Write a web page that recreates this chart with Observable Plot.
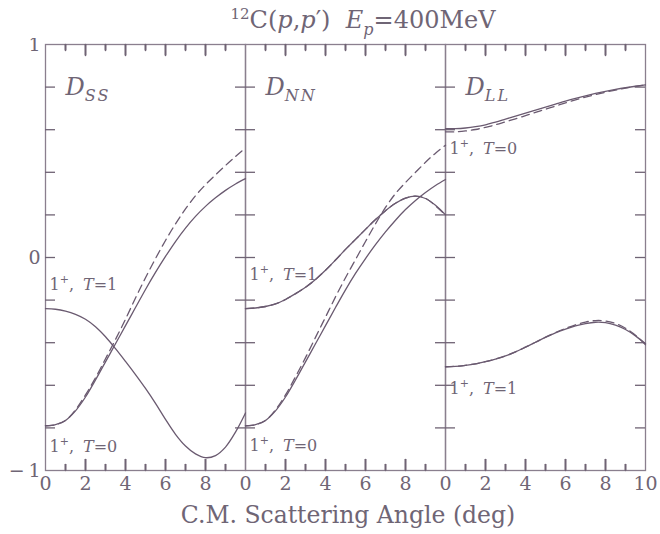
<!DOCTYPE html>
<html>
<head>
<meta charset="utf-8">
<script src="https://cdn.jsdelivr.net/npm/d3@7"></script>
<script src="https://cdn.jsdelivr.net/npm/@observablehq/plot@0.6"></script>
<style>
  body { margin: 0; background: #fff; font-family: "DejaVu Serif", serif; color: #6f6575; }
  #title { height: 38px; line-height: 40px; text-align: center; font-size: 24px; padding-left: 66px; white-space: nowrap; }
  #title sup { font-size: 15px; vertical-align: 9px; line-height: 0; }
  #title sub { font-size: 16px; vertical-align: -7px; line-height: 0; }
  #xlabel { height: 34px; line-height: 30px; text-align: center; font-size: 23.5px; padding-left: 36px; white-space: nowrap; }
  #chart svg { display: block; }
</style>
</head>
<body>
<div id="title"><sup>12</sup>C(<i>p</i>,<i>p</i>′)&nbsp;&nbsp;<i>E<sub>p</sub></i>=400MeV</div>
<div id="chart"></div>
<div id="xlabel">C.M. Scattering Angle (deg)</div>
<script>
// ---------- data ----------
const panels = ["SS", "NN", "LL"];
const angles = [0, 0.5, 1, 1.5, 2, 2.5, 3, 3.5, 4, 4.5, 5, 5.5, 6, 6.5, 7, 7.5, 8, 8.5, 9, 9.5, 10];

// D_SS
const ssT0Solid = [-0.79,-0.785,-0.765,-0.72,-0.655,-0.575,-0.49,-0.405,-0.32,-0.235,-0.15,-0.07,0.005,0.075,0.138,0.193,0.24,0.28,0.315,0.345,0.37];
const ssT0Dashed = [-0.79,-0.785,-0.765,-0.715,-0.645,-0.565,-0.475,-0.385,-0.29,-0.19,-0.095,-0.005,0.08,0.158,0.228,0.29,0.342,0.388,0.432,0.474,0.515];
const ssT1Solid = [-0.24,-0.243,-0.252,-0.267,-0.29,-0.325,-0.372,-0.428,-0.488,-0.55,-0.615,-0.685,-0.76,-0.83,-0.885,-0.922,-0.94,-0.93,-0.89,-0.82,-0.73];

// D_NN
const nnT0Solid = [-0.79,-0.785,-0.765,-0.72,-0.655,-0.575,-0.49,-0.405,-0.32,-0.235,-0.152,-0.075,-0.005,0.06,0.12,0.175,0.225,0.268,0.305,0.338,0.366];
const nnT0Dashed = [-0.79,-0.785,-0.765,-0.715,-0.645,-0.56,-0.47,-0.375,-0.28,-0.185,-0.095,-0.01,0.075,0.158,0.235,0.30,0.352,0.40,0.447,0.49,0.527];
const nnT1Solid = [-0.24,-0.237,-0.23,-0.218,-0.197,-0.17,-0.14,-0.103,-0.06,-0.012,0.038,0.085,0.132,0.178,0.22,0.255,0.279,0.288,0.277,0.245,0.2];
const nnT1Dashed = [-0.24,-0.237,-0.23,-0.218,-0.197,-0.17,-0.14,-0.103,-0.06,-0.012,0.038,0.085,0.132,0.178,0.22,0.255,0.279,0.288,0.278,0.243,0.198];

// D_LL
const llT0Solid = [0.605,0.605,0.608,0.614,0.623,0.636,0.65,0.664,0.678,0.692,0.706,0.72,0.734,0.747,0.759,0.77,0.78,0.789,0.797,0.804,0.81];
const llT0Dashed = [0.59,0.59,0.594,0.601,0.611,0.623,0.637,0.651,0.666,0.681,0.696,0.711,0.726,0.74,0.753,0.765,0.776,0.786,0.795,0.803,0.81];
const llT1Solid = [-0.513,-0.511,-0.506,-0.499,-0.489,-0.477,-0.462,-0.443,-0.421,-0.398,-0.375,-0.354,-0.336,-0.321,-0.31,-0.304,-0.306,-0.318,-0.338,-0.368,-0.405];
const llT1Dashed = [-0.513,-0.511,-0.506,-0.499,-0.489,-0.477,-0.462,-0.443,-0.421,-0.398,-0.374,-0.352,-0.333,-0.316,-0.303,-0.296,-0.298,-0.31,-0.332,-0.365,-0.41];

// ticks and labels
const xDomain = [0, 10];
const yDomain = [-1, 1];
const xTickLabels = [0, 2, 4, 6, 8];
const xLastLabel = 10;
const xMajorTicks = [2, 4, 6, 8];
const xMinorTicks = [1, 3, 5, 7, 9];
const yTicks = [-0.8, -0.6, -0.4, -0.2, 0, 0.2, 0.4, 0.6, 0.8];
const yTickLabels = [-1, 0, 1];
const panelNames = ["D_SS", "D_NN", "D_LL"];
const curveLabels = [
  {panel: "SS", y: -0.13, label: "1+ T=1"},
  {panel: "SS", y: -0.887, label: "1+ T=0"},
  {panel: "NN", y: -0.08, label: "1+ T=1"},
  {panel: "NN", y: -0.883, label: "1+ T=0"},
  {panel: "LL", y: 0.512, label: "1+ T=0"},
  {panel: "LL", y: -0.615, label: "1+ T=1"}
];

// ---------- layout ----------
const W = 660, H = 462, mT = 6, mB = 30, mL = 45, mR = 15;
const innerH = H - mT - mB;
const facetW = (W - mL - mR) / panels.length;
const majorLen = 11, minorLen = 6, yTickLen = 10;
const unitsPerPx = (yDomain[1] - yDomain[0]) / innerH;

// ---------- build tables ----------
function rows(panel, series, values) {
  return angles.map((a, i) => ({panel, series, angle: a, value: values[i]}));
}
const solidRows = [
  ...rows("SS", "T0", ssT0Solid), ...rows("SS", "T1", ssT1Solid),
  ...rows("NN", "T0", nnT0Solid), ...rows("NN", "T1", nnT1Solid),
  ...rows("LL", "T0", llT0Solid), ...rows("LL", "T1", llT1Solid)
];
const dashedRows = [
  ...rows("SS", "T0", ssT0Dashed),
  ...rows("NN", "T0", nnT0Dashed), ...rows("NN", "T1", nnT1Dashed),
  ...rows("LL", "T0", llT0Dashed), ...rows("LL", "T1", llT1Dashed)
];
const xLabelRows = [];
panels.forEach((p, k) => {
  xTickLabels.forEach(v => xLabelRows.push({panel: p, v}));
  if (k === panels.length - 1) xLabelRows.push({panel: p, v: xLastLabel});
});
const yLabelRows = yTickLabels.map(v => ({panel: panels[0], v, label: v < 0 ? "\u2212\u2009" + Math.abs(v) : String(v)}));
const panelNameRows = panels.map((p, i) => ({panel: p, name: panelNames[i]}));
// inward x ticks as short two-point segments from the bottom and top edges of each facet
const xTickSegs = [];
panels.forEach(p => {
  [[xMajorTicks, majorLen], [xMinorTicks, minorLen]].forEach(([ticks, len]) => {
    ticks.forEach(v => {
      const d = len * unitsPerPx;
      xTickSegs.push({panel: p, id: p + "b" + v, v, y: yDomain[0]}, {panel: p, id: p + "b" + v, v, y: yDomain[0] + d});
      xTickSegs.push({panel: p, id: p + "t" + v, v, y: yDomain[1]}, {panel: p, id: p + "t" + v, v, y: yDomain[1] - d});
    });
  });
});
// edge rows (repeated in every facet) for the rule version of the same ticks
const edgeRows = (ticks, edge) => ticks.map(v => ({v, edge}));

// ---------- styling ----------
const lineColor = "#6a5a70";
const frameColor = "#8a7f8e";
const tickColor = "#6f6374";
const textColor = "#6f6575";

const chart = Plot.plot({
  width: W, height: H,
  marginTop: mT, marginBottom: mB, marginLeft: mL, marginRight: mR,
  fx: {domain: panels, padding: 0, axis: null, round: false},
  x: {domain: xDomain, axis: null},
  y: {domain: yDomain, axis: null},
  marks: [
    Plot.frame({stroke: frameColor, strokeWidth: 1.3}),
    // inward x ticks (drawn as rules anchored on the frame edges, and as short segments)
    Plot.ruleX(edgeRows(xMajorTicks, yDomain[0]), {x: "v", y1: "edge", y2: "edge", insetBottom: majorLen, stroke: tickColor, strokeWidth: 1.6}),
    Plot.ruleX(edgeRows(xMinorTicks, yDomain[0]), {x: "v", y1: "edge", y2: "edge", insetBottom: minorLen, stroke: tickColor, strokeWidth: 1.6}),
    Plot.ruleX(edgeRows(xMajorTicks, yDomain[1]), {x: "v", y1: "edge", y2: "edge", insetTop: majorLen, stroke: tickColor, strokeWidth: 1.6}),
    Plot.ruleX(edgeRows(xMinorTicks, yDomain[1]), {x: "v", y1: "edge", y2: "edge", insetTop: minorLen, stroke: tickColor, strokeWidth: 1.6}),
    Plot.line(xTickSegs, {x: "v", y: "y", z: "id", fx: "panel", stroke: tickColor, strokeWidth: 1.6}),
    // inward y ticks (left & right)
    Plot.tickY(yTicks, {y: d => d, insetRight: facetW - yTickLen, stroke: tickColor, strokeWidth: 1.3}),
    Plot.tickY(yTicks, {y: d => d, insetLeft: facetW - yTickLen, stroke: tickColor, strokeWidth: 1.3}),
    // curves
    Plot.line(solidRows, {x: "angle", y: "value", fx: "panel", z: "series", stroke: lineColor, strokeWidth: 1.3, curve: "catmull-rom"}),
    Plot.line(dashedRows, {x: "angle", y: "value", fx: "panel", z: "series", stroke: lineColor, strokeWidth: 1.3, strokeDasharray: "8,5", curve: "catmull-rom"}),
    // tick labels
    Plot.text(xLabelRows, {x: "v", fx: "panel", text: d => String(d.v), frameAnchor: "bottom", dy: 19, fontSize: 19, fontFamily: "DejaVu Serif", fill: textColor}),
    Plot.text(yLabelRows, {fx: "panel", y: "v", text: "label", frameAnchor: "left", textAnchor: "end", dx: -5, fontSize: 19, fontFamily: "DejaVu Serif", fill: textColor}),
    // panel names
    Plot.text(panelNameRows, {fx: "panel", text: "name", frameAnchor: "top-left", textAnchor: "start", dx: 20, dy: 33, fontSize: 24, fontStyle: "italic", fontFamily: "DejaVu Serif", fill: textColor}),
    // curve labels
    Plot.text(curveLabels, {fx: "panel", y: "y", text: "label", frameAnchor: "left", textAnchor: "start", dx: 4, fontSize: 16, fontFamily: "DejaVu Serif", fill: textColor})
  ]
});

// rich text: subscripts, superscripts, italics
const NS = "http://www.w3.org/2000/svg";
function rich(t, parts) {
  t.textContent = "";
  for (const p of parts) {
    const ts = document.createElementNS(NS, "tspan");
    ts.textContent = p.s;
    for (const k in (p.a || {})) ts.setAttribute(k, p.a[k]);
    t.appendChild(ts);
  }
}
chart.querySelectorAll("text").forEach(t => {
  const s = t.textContent;
  if (s.startsWith("D_")) {
    rich(t, [{s: "D"}, {s: s.slice(2), a: {dy: "6", "font-size": "16", "letter-spacing": "2"}}]);
  } else if (s.startsWith("1+ T=")) {
    rich(t, [{s: "1"}, {s: "+", a: {dy: "-7", "font-size": "11"}}, {s: ",", a: {dy: "7"}},
             {s: "T", a: {dx: "9", "font-style": "italic"}}, {s: "=" + s.slice(5)}]);
  }
});
document.getElementById("chart").appendChild(chart);
</script>
</body>
</html>
